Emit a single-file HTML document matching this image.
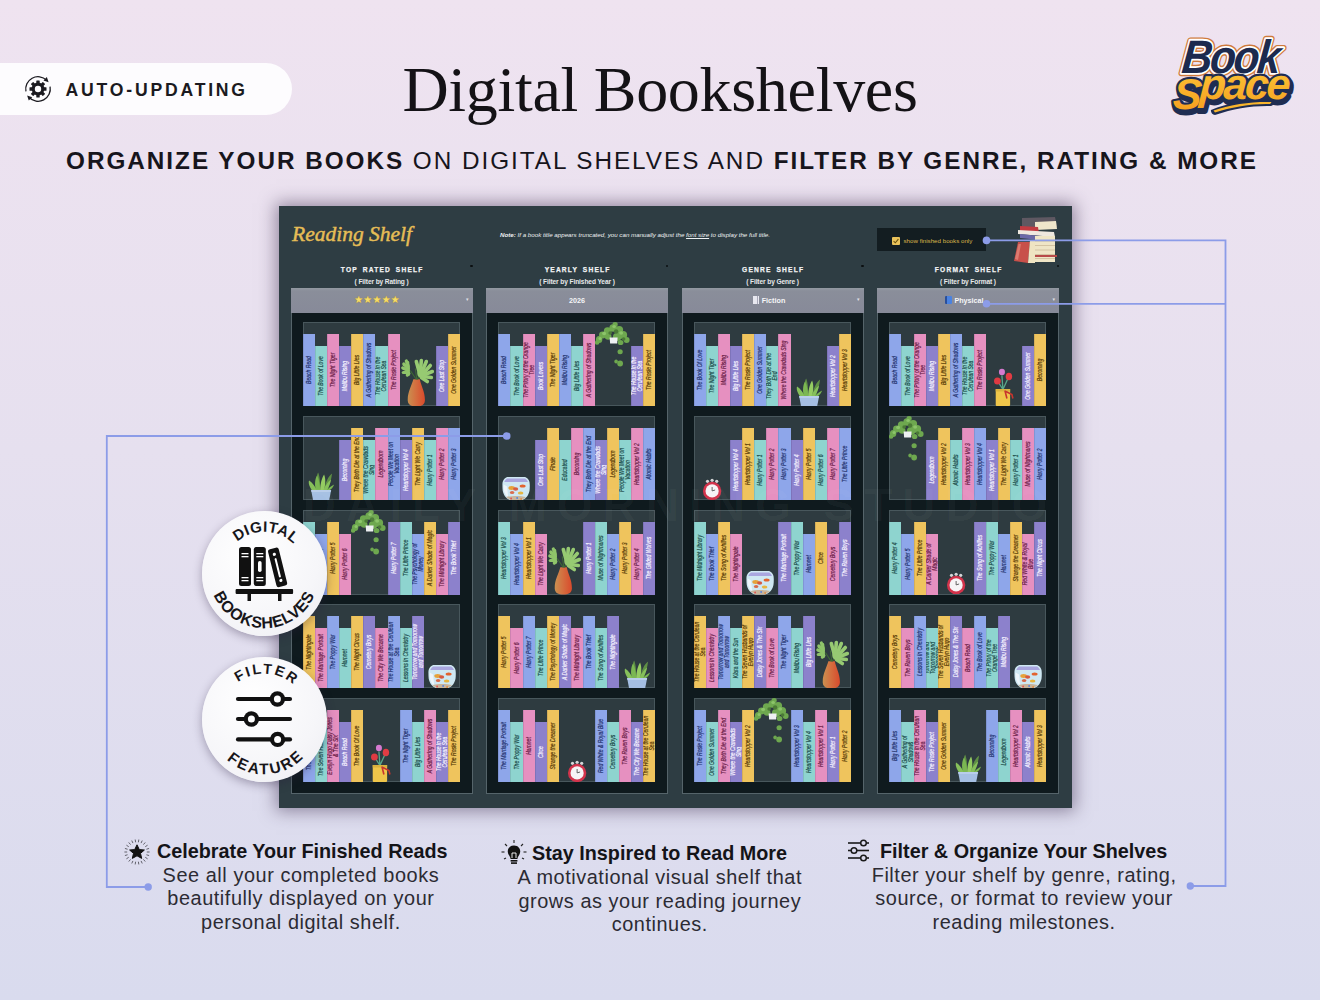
<!DOCTYPE html>
<html><head><meta charset="utf-8"><title>Digital Bookshelves</title><style>
*{box-sizing:border-box;margin:0;padding:0}
html,body{width:1320px;height:1000px;overflow:hidden}
body{position:relative;background:linear-gradient(180deg,#efe3f0 0%,#e6e0ef 45%,#d9dbee 100%);font-family:"Liberation Sans",Arial,sans-serif;color:#15151a}
.abs{position:absolute}
#pill{position:absolute;left:-30px;top:63px;width:322px;height:51.5px;border-radius:26px;background:#fdfcfe}
#pill .txt{position:absolute;left:95.5px;top:16.5px;font-size:17.6px;font-weight:700;letter-spacing:2.8px;color:#1b1a20;white-space:nowrap}
#gear{position:absolute;left:24px;top:74.6px}
#title{position:absolute;left:0;width:1320px;top:53px;text-align:center;font-family:"Liberation Serif",serif;font-size:64px;letter-spacing:-0.3px;color:#141216;white-space:nowrap}
#sub{position:absolute;left:2px;width:1320px;top:147px;text-align:center;font-size:24.3px;letter-spacing:1.97px;color:#17151c;white-space:nowrap}
#sub b{font-weight:700}
#logo{position:absolute;left:1162px;top:29px}
#panel{position:absolute;left:279px;top:206px;width:793px;height:602px;background:#2e3d43;box-shadow:0 0 16px 3px rgba(60,44,78,.5)}
#rs{position:absolute;left:292px;top:221.5px;font-family:"Liberation Serif",serif;font-style:italic;font-weight:400;font-size:21.5px;color:#e6bd56;-webkit-text-stroke:0.45px #e6bd56;white-space:nowrap}
#note{position:absolute;left:500px;top:230.5px;font-size:6.2px;font-style:italic;color:#eef1f2;white-space:nowrap}
#note u{text-decoration:underline}
#cbx{position:absolute;left:877px;top:228px;width:108.5px;height:23px;background:#131d21}
#cbx .box{position:absolute;left:14.5px;top:8.5px;width:8px;height:8px;background:#e9c25a;border-radius:1px}
#cbx .lbl{position:absolute;left:26.5px;top:8.5px;font-size:6.2px;color:#dbb64a;white-space:nowrap}
.ch{position:absolute;top:266px;text-align:center;font-size:6.6px;font-weight:700;letter-spacing:1.22px;word-spacing:1.8px;color:#f2f3f4;white-space:nowrap;padding-left:1.22px;-webkit-text-stroke:0.25px #f2f3f4}
.cs{position:absolute;top:278px;text-align:center;font-size:6.6px;font-weight:700;letter-spacing:-0.1px;color:#e8eaeb;white-space:nowrap}
.dot{position:absolute;top:264.5px;width:2.5px;height:2.5px;border-radius:50%;background:#0b0f10}
.dd{position:absolute;top:288.4px;height:24.6px;background:linear-gradient(180deg,#939aa2 0,#8a8e9a 12%,#878a99 100%)}
.dd .dv{position:absolute;left:0;right:0;top:7.5px;text-align:center;font-size:7.2px;font-weight:700;color:#f6f6f8;white-space:nowrap}
.dd .car{position:absolute;right:4px;top:8px;font-size:5px;color:#e0e0e6;font-family:"DejaVu Sans",sans-serif}
.stars{font-family:"DejaVu Sans",sans-serif;color:#f5dc6a;font-size:9.9px;letter-spacing:0.3px;position:relative;top:-1.8px;left:-4.5px;text-shadow:0 0 1px #b08a10}
.ic{display:inline-block;width:6.5px;height:7.5px;margin-right:2.5px;vertical-align:-1px}
.ic1{background:linear-gradient(90deg,#e8e8f0 0 30%,#a8a8b8 30% 40%,#e8e8f0 40% 70%,#a8a8b8 70% 80%,#e8e8f0 80%)}
.ic2{background:linear-gradient(90deg,#2a4f9a 0 25%,#4a82e0 25%);border-radius:1px}
.fr{position:absolute;top:312.8px;height:481.5px;background:#0f1a1e;border:1px solid #55646a;border-top:none}
.sb{position:absolute;background:#2e3b40;border:1px solid #48575c}
.dc{position:absolute}
.bk{position:absolute;overflow:hidden;box-shadow:inset 0.8px 0 0 rgba(30,30,60,.16);font-style:italic;font-weight:400;font-size:6.3px;line-height:5.6px;-webkit-text-stroke:0.2px currentColor}
.bk span{position:absolute;left:50%;top:50%;transform:translate(-50%,-50%) rotate(-90deg) scaleX(0.8);text-align:center;white-space:normal}
#wm{position:absolute;left:300px;top:478px;width:760px;text-align:center;font-size:46px;font-weight:700;letter-spacing:10px;color:rgba(255,255,255,.035);white-space:nowrap}
#stack{position:absolute;left:1012px;top:215px}
#lines{position:absolute;left:0;top:0}
.badge{position:absolute;width:124.5px;height:124.5px;border-radius:50%;background:radial-gradient(circle at 40% 35%,#ffffff 0%,#f6f6f9 60%,#ececf1 100%);box-shadow:0 3px 10px rgba(40,30,60,.35)}
.badge svg{position:absolute;left:0;top:0}
.feat{position:absolute;text-align:center;white-space:nowrap}
.feat .ft{font-weight:700;font-size:19.8px;letter-spacing:0px;color:#141418;line-height:23px}
.feat .fb{font-size:19.9px;letter-spacing:0.56px;color:#2c2b33;line-height:23.6px}

</style></head>
<body>
<svg width="0" height="0" style="position:absolute"><defs><linearGradient id="vaseg" x1="0" y1="0" x2="1" y2="0"><stop offset="0" stop-color="#c99050"/><stop offset="0.45" stop-color="#d47040"/><stop offset="1" stop-color="#d94a2c"/></linearGradient></defs></svg>
<div id="pill"><span class="txt">AUTO-UPDATING</span></div>
<svg id="gear" width="28" height="28" viewBox="0 0 28 28">
  <g transform="translate(14,14)">
    <path d="M-12.07,2.35 A12.3,12.3 0 0 1 8.54,-8.85" fill="none" stroke="#1b1a20" stroke-width="1.3"/>
    <path d="M10.62,-6.85 L8.83,-11.91 L5.50,-8.46 Z" fill="#1b1a20"/>
    <path d="M12.07,-2.35 A12.3,12.3 0 0 1 -8.85,8.54" fill="none" stroke="#1b1a20" stroke-width="1.3"/>
    <path d="M-10.85,6.47 L-9.24,11.59 L-5.79,8.26 Z" fill="#1b1a20"/>
    <g fill="#1b1a20"><circle r="6.4"/><rect x="-1.7" y="-8.5" width="3.4" height="17" rx="0.5" transform="rotate(0)"/><rect x="-1.7" y="-8.5" width="3.4" height="17" rx="0.5" transform="rotate(45)"/><rect x="-1.7" y="-8.5" width="3.4" height="17" rx="0.5" transform="rotate(90)"/><rect x="-1.7" y="-8.5" width="3.4" height="17" rx="0.5" transform="rotate(135)"/></g>
    <circle r="3.2" fill="#fdfcfe"/>
  </g>
</svg>
<div id="title">Digital Bookshelves</div>
<div id="sub"><b>ORGANIZE YOUR BOOKS</b> ON DIGITAL SHELVES AND <b>FILTER BY GENRE, RATING &amp; MORE</b></div>
<svg id="logo" width="140" height="92" viewBox="0 0 140 92">
  <defs><linearGradient id="lg" x1="0" y1="0" x2="0" y2="1"><stop offset="0" stop-color="#fcc93a"/><stop offset="1" stop-color="#f59a1c"/></linearGradient></defs>
  <g font-family="'Liberation Sans',sans-serif" font-weight="700" font-style="italic">
    <g transform="translate(67,44) scale(0.9,1) skewX(-6)">
      <text x="0" y="0" text-anchor="middle" font-size="47" fill="#1f2d52" stroke="#cf7a3c" stroke-width="6.5" stroke-linejoin="round" letter-spacing="-2.5">Book</text>
      <text x="0" y="0" text-anchor="middle" font-size="47" fill="#1f2d52" stroke="#ffffff" stroke-width="3.6" stroke-linejoin="round" letter-spacing="-2.5">Book</text>
      <text x="0" y="0" text-anchor="middle" font-size="47" fill="#1c2a4e" letter-spacing="-2.5">Book</text>
    </g>
    <g transform="translate(68,70) skewX(-4)">
      <text x="1.5" y="12.5" text-anchor="middle" font-size="43" fill="#1f2d52" stroke="#1f2d52" stroke-width="6" stroke-linejoin="round" letter-spacing="-2.5">S<tspan dy="-10">pace</tspan></text>
      <text x="0" y="10" text-anchor="middle" font-size="43" fill="#f7ae25" stroke="#1f2d52" stroke-width="4.5" stroke-linejoin="round" letter-spacing="-2.5">S<tspan dy="-10">pace</tspan></text>
      <text x="0" y="10" text-anchor="middle" font-size="43" fill="url(#lg)" letter-spacing="-2.5">S<tspan dy="-10">pace</tspan></text>
    </g>
  </g>
  <path d="M49,81 C68,73 90,70 111,71 C113,72.5 112,76 109,77 C90,76.5 72,79.5 53,86 C50,85.5 48.5,83 49,81 Z" fill="#1f2d52"/>
  <path d="M51.5,81.5 C70,75 90,72.5 109.5,73 C109,74 108.5,74.5 108,75 C90,74.5 72,77.5 53,83.5 Z" fill="#f8b52c"/>
</svg>

<div id="panel"></div>
<div id="rs">Reading Shelf</div>
<div id="note"><b>Note:</b> If a book title appears truncated, you can manually adjust the <u>font size</u> to display the full title.</div>
<div id="cbx"><div class="box"><svg width="8" height="8" viewBox="0 0 8 8" style="position:absolute;left:0;top:0"><path d="M1.6,4.2 L3.3,5.8 L6.4,2.2" stroke="#6a5210" stroke-width="1.1" fill="none"/></svg></div><div class="lbl">show finished books only</div></div>
<svg id="stack" width="48" height="52" viewBox="0 0 48 52">
  <path d="M10,3 L43,2 L45,12 L10,13 Z" fill="#5f5862"/>
  <path d="M23,7 L44,6 L45,14 L23,15 Z" fill="#efe6cb"/>
  <path d="M8,11 L26,12 L27,18 L8,17 Z" fill="#c23b42"/>
  <path d="M6,15 L42,17 L43,22 L6,19 Z" fill="#efe8df"/>
  <path d="M8,19 L28,21 L28,25 L8,23 Z" fill="#6b69a8"/>
  <rect x="23" y="21" width="20" height="26" fill="#efe5c6"/>
  <g stroke="#c9b592" stroke-width="0.7"><line x1="23" y1="26" x2="43" y2="26"/><line x1="23" y1="30.5" x2="43" y2="30.5"/><line x1="23" y1="35" x2="43" y2="35"/><line x1="23" y1="39.5" x2="43" y2="39.5"/><line x1="23" y1="43.5" x2="43" y2="43.5"/></g>
  <rect x="22" y="40" width="23" height="2" fill="#b84a4a"/>
  <path d="M2,46 L6,27 L18,27 L16,48 Z" fill="#c8504a"/>
  <path d="M3,44 L6.5,29 L9,29 L6,45 Z" fill="#dc7a70"/>
  <path d="M16,48 L18,25 L23,25 L23,48 Z" fill="#efe4c2"/>
</svg>
<div class="ch" style="left:290.60px;width:182px">TOP RATED SHELF</div>
<div class="cs" style="left:290.60px;width:182px">( Filter by Rating )</div>
<div class="dot" style="left:470.10px"></div>
<div class="dd" style="left:290.60px;width:182px"><span class="dv"><span class="stars">★★★★★</span></span><span class="car">▾</span></div>
<div class="fr" style="left:290.60px;width:182px"></div>
<div class="ch" style="left:486.00px;width:182px">YEARLY SHELF</div>
<div class="cs" style="left:486.00px;width:182px">( Filter by Finished Year )</div>
<div class="dot" style="left:665.50px"></div>
<div class="dd" style="left:486.00px;width:182px"><span class="dv">2026</span></div>
<div class="fr" style="left:486.00px;width:182px"></div>
<div class="ch" style="left:681.50px;width:182px">GENRE SHELF</div>
<div class="cs" style="left:681.50px;width:182px">( Filter by Genre )</div>
<div class="dot" style="left:861.00px"></div>
<div class="dd" style="left:681.50px;width:182px"><span class="dv"><span style="position:relative;left:-3.5px"><i class="ic ic1"></i>Fiction</span></span><span class="car">▾</span></div>
<div class="fr" style="left:681.50px;width:182px"></div>
<div class="ch" style="left:877.00px;width:182px">FORMAT SHELF</div>
<div class="cs" style="left:877.00px;width:182px">( Filter by Format )</div>
<div class="dot" style="left:1056.50px"></div>
<div class="dd" style="left:877.00px;width:182px"><span class="dv"><span style="position:relative;left:-3.5px"><i class="ic ic2"></i>Physical</span></span><span class="car">▾</span></div>
<div class="fr" style="left:877.00px;width:182px"></div>
<div class="sb" style="left:303.00px;top:321.50px;width:157.00px;height:84.50px"></div>
<div class="bk" style="left:303.00px;top:333.50px;width:12.08px;height:72.50px;background:#8ea6ea;color:#24336f"><span style="width:77.5px">Beach Read</span></div>
<div class="bk" style="left:315.08px;top:345.50px;width:12.08px;height:60.50px;background:#8ed4cf;color:#1b4c4a"><span style="width:62.5px">The Book of Love</span></div>
<div class="bk" style="left:327.15px;top:333.50px;width:12.08px;height:72.50px;background:#e690c0;color:#6a1c46"><span style="width:77.5px">The Night Tiger</span></div>
<div class="bk" style="left:339.23px;top:345.50px;width:12.08px;height:60.50px;background:#8c81cc;color:#f6f2ff"><span style="width:62.5px">Malibu Rising</span></div>
<div class="bk" style="left:351.31px;top:333.50px;width:12.08px;height:72.50px;background:#efc45d;color:#573905"><span style="width:77.5px">Big Little Lies</span></div>
<div class="bk" style="left:363.38px;top:333.50px;width:12.08px;height:72.50px;background:#8ea6ea;color:#24336f"><span style="width:77.5px">A Gathering of Shadows</span></div>
<div class="bk" style="left:375.46px;top:345.50px;width:12.08px;height:60.50px;background:#8ed4cf;color:#1b4c4a"><span style="width:62.5px">The House in the Cerulean Sea</span></div>
<div class="bk" style="left:387.54px;top:333.50px;width:12.08px;height:72.50px;background:#e690c0;color:#6a1c46"><span style="width:77.5px">The Rosie Project</span></div>
<div class="bk" style="left:435.85px;top:345.50px;width:12.08px;height:60.50px;background:#8c81cc;color:#f6f2ff"><span style="width:62.5px">One Last Stop</span></div>
<div class="bk" style="left:447.92px;top:333.50px;width:12.08px;height:72.50px;background:#efc45d;color:#573905"><span style="width:77.5px">One Golden Summer</span></div>
<div class="dc" style="left:399.62px;top:321.50px;width:36.23px;height:84.50px"><svg width="36.2" height="84.5" style="position:absolute;left:0;top:0">
<g transform="translate(16.32,84.50)">
<path d="M-3,-27.3 L3.5,-27.3 C4.5,-21 8.8,-15 8.6,-6 C8.4,-1.5 5,0 0,0 C-5,0 -8.4,-1.5 -8.6,-6 C-8.8,-15 -4.5,-21 -3,-27.3 Z" fill="url(#vaseg)"/>
<path d="M0,-27 L-6,-36 M1,-27 L4,-33 M0.5,-27 L-1,-38" stroke="#3f6b34" stroke-width="1.1"/>
<g stroke="#8fc46a" stroke-width="3.2" stroke-linecap="round"><path d="M-8,-34 L-13,-34" /><path d="M-8,-36 L-13.5,-38.5" /><path d="M-8,-38 L-12.5,-42.5" /><path d="M-8,-40 L-10,-45.5" /><path d="M-7.5,-33 L-9,-31.5" /></g>
<path d="M-8,-32 L-8.5,-44" stroke="#8fc46a" stroke-width="3" stroke-linecap="round"/>
<g stroke="#97ca72" stroke-width="3.6" stroke-linecap="round"><path d="M3,-34 L0,-45" /><path d="M4,-34 L5,-46" /><path d="M5,-33 L10,-45" /><path d="M6,-32 L14,-41" /><path d="M6,-31 L16,-35" /><path d="M6,-30 L15,-29" /><path d="M5,-29 L11,-25" /></g>
<circle cx="5" cy="-33" r="4" fill="#97ca72"/>
</g></svg></div>
<div class="sb" style="left:303.00px;top:415.80px;width:157.00px;height:84.50px"></div>
<div class="bk" style="left:339.23px;top:439.80px;width:12.08px;height:60.50px;background:#8c81cc;color:#f6f2ff"><span style="width:62.5px">Becoming</span></div>
<div class="bk" style="left:351.31px;top:427.80px;width:12.08px;height:72.50px;background:#efc45d;color:#573905"><span style="width:77.5px">They Both Die at the End</span></div>
<div class="bk" style="left:363.38px;top:439.80px;width:12.08px;height:60.50px;background:#8ed4cf;color:#1b4c4a"><span style="width:62.5px">Where the Crawdads Sing</span></div>
<div class="bk" style="left:375.46px;top:427.80px;width:12.08px;height:72.50px;background:#e690c0;color:#6a1c46"><span style="width:77.5px">Legendborn</span></div>
<div class="bk" style="left:387.54px;top:427.80px;width:12.08px;height:72.50px;background:#8ea6ea;color:#24336f"><span style="width:77.5px">People We Meet on Vacation</span></div>
<div class="bk" style="left:399.62px;top:439.80px;width:12.08px;height:60.50px;background:#8c81cc;color:#f6f2ff"><span style="width:62.5px">Heartstopper Vol 4</span></div>
<div class="bk" style="left:411.69px;top:427.80px;width:12.08px;height:72.50px;background:#efc45d;color:#573905"><span style="width:77.5px">The Light We Carry</span></div>
<div class="bk" style="left:423.77px;top:439.80px;width:12.08px;height:60.50px;background:#8ed4cf;color:#1b4c4a"><span style="width:62.5px">Harry Potter 1</span></div>
<div class="bk" style="left:435.85px;top:427.80px;width:12.08px;height:72.50px;background:#e690c0;color:#6a1c46"><span style="width:77.5px">Harry Potter 2</span></div>
<div class="bk" style="left:447.92px;top:427.80px;width:12.08px;height:72.50px;background:#8ea6ea;color:#24336f"><span style="width:77.5px">Harry Potter 3</span></div>
<div class="dc" style="left:303.00px;top:415.80px;width:36.23px;height:84.50px"><svg width="36.2" height="84.5" style="position:absolute;left:0;top:0">
<g transform="translate(18.12,84.50)">
<g fill="#5f8f45">
<path d="M-4,-10 C-6,-18 -5,-24 -3,-28 C-1,-24 -1,-16 -1,-10 Z"/>
<path d="M3,-10 C4,-18 7,-24 11,-27 C10,-20 8,-14 6,-10 Z"/>
</g>
<g fill="#86c05a">
<path d="M-9,-10 C-12,-14 -13,-18 -12,-20 C-9,-18 -6,-14 -4,-10 Z"/>
<path d="M-5,-10 C-7,-16 -6,-22 -4,-25 C-2,-21 -1,-15 -1,-10 Z" fill="#7bb752"/>
<path d="M-1,-10 C-1,-17 1,-23 3,-26 C5,-21 4,-15 3,-10 Z" fill="#95cc62"/>
<path d="M2,-10 C4,-15 7,-19 10,-21 C9,-16 7,-13 6,-10 Z"/>
<path d="M5,-10 C8,-13 11,-15 13,-16 C12,-13 10,-11 8,-10 Z" fill="#7bb752"/>
</g>
<path d="M-10,-10.5 L10,-10.5 L8,0 L-8,0 Z" fill="#a5bfe3"/>
<path d="M-10,-10.5 L10,-10.5 L9.6,-8.5 L-9.6,-8.5 Z" fill="#b8cdea"/>
</g></svg></div>
<div class="sb" style="left:303.00px;top:510.00px;width:157.00px;height:84.50px"></div>
<div class="bk" style="left:303.00px;top:522.00px;width:12.08px;height:72.50px;background:#8ed4cf;color:#1b4c4a"><span style="width:77.5px">Harry Potter 3</span></div>
<div class="bk" style="left:315.08px;top:534.00px;width:12.08px;height:60.50px;background:#8ea6ea;color:#24336f"><span style="width:62.5px">Harry Potter 4</span></div>
<div class="bk" style="left:327.15px;top:522.00px;width:12.08px;height:72.50px;background:#efc45d;color:#573905"><span style="width:77.5px">Harry Potter 5</span></div>
<div class="bk" style="left:339.23px;top:534.00px;width:12.08px;height:60.50px;background:#e690c0;color:#6a1c46"><span style="width:62.5px">Harry Potter 6</span></div>
<div class="bk" style="left:387.54px;top:522.00px;width:12.08px;height:72.50px;background:#8c81cc;color:#f6f2ff"><span style="width:77.5px">Harry Potter 7</span></div>
<div class="bk" style="left:399.62px;top:522.00px;width:12.08px;height:72.50px;background:#8ed4cf;color:#1b4c4a"><span style="width:77.5px">The Little Prince</span></div>
<div class="bk" style="left:411.69px;top:534.00px;width:12.08px;height:60.50px;background:#8ea6ea;color:#24336f"><span style="width:62.5px">The Psychology of Money</span></div>
<div class="bk" style="left:423.77px;top:522.00px;width:12.08px;height:72.50px;background:#efc45d;color:#573905"><span style="width:77.5px">A Darker Shade of Magic</span></div>
<div class="bk" style="left:435.85px;top:534.00px;width:12.08px;height:60.50px;background:#e690c0;color:#6a1c46"><span style="width:62.5px">The Midnight Library</span></div>
<div class="bk" style="left:447.92px;top:522.00px;width:12.08px;height:72.50px;background:#8c81cc;color:#f6f2ff"><span style="width:77.5px">The Book Thief</span></div>
<div class="dc" style="left:351.31px;top:510.00px;width:36.23px;height:84.50px"><svg width="36.2" height="84.5" style="position:absolute;left:0;top:0">
<g transform="translate(18.12,0)">
<g fill="#6ea84f">
<ellipse cx="-14" cy="17.5" rx="3.2" ry="3.5"/><ellipse cx="-10.5" cy="13" rx="3.6" ry="3.4"/>
<ellipse cx="-5.5" cy="9" rx="3.8" ry="3.8"/><ellipse cx="0" cy="6" rx="3.8" ry="3.8"/>
<ellipse cx="2" cy="2.5" rx="2.6" ry="2.4"/>
<ellipse cx="6" cy="8" rx="4" ry="4"/><ellipse cx="10" cy="13" rx="4" ry="4"/>
<ellipse cx="13.5" cy="18" rx="3" ry="3"/><ellipse cx="4" cy="15" rx="4.2" ry="4"/>
<ellipse cx="-5" cy="14.5" rx="3.3" ry="3.2"/><ellipse cx="-16" cy="20.5" rx="2.3" ry="2.3"/>
<ellipse cx="7.5" cy="20.5" rx="2.8" ry="2.6"/>
<ellipse cx="7" cy="29.7" rx="2.6" ry="2.5"/><ellipse cx="7" cy="41.5" rx="2.9" ry="2.9"/><ellipse cx="3" cy="39.5" rx="1.8" ry="2"/>
</g>
<g fill="#8cc46a"><ellipse cx="-9" cy="11.5" rx="2" ry="1.8"/><ellipse cx="1" cy="4.5" rx="1.8" ry="1.6"/><ellipse cx="8" cy="11" rx="2" ry="1.8"/><ellipse cx="-13" cy="16.5" rx="1.6" ry="1.6"/></g>
<g fill="#4b7a36"><ellipse cx="3" cy="9.5" rx="2.2" ry="2.2"/><ellipse cx="10.5" cy="17" rx="1.8" ry="1.8"/><ellipse cx="-3" cy="11" rx="1.8" ry="1.8"/></g>
<path d="M-3.5,15.5 L4.5,15.5 L4,21.5 L-3,21.5 Z" fill="#eef0f2"/>
</g></svg></div>
<div class="sb" style="left:303.00px;top:603.80px;width:157.00px;height:84.50px"></div>
<div class="bk" style="left:303.00px;top:615.80px;width:12.08px;height:72.50px;background:#efc45d;color:#573905"><span style="width:77.5px">The Nightingale</span></div>
<div class="bk" style="left:315.08px;top:627.80px;width:12.08px;height:60.50px;background:#e690c0;color:#6a1c46"><span style="width:62.5px">The Marriage Portrait</span></div>
<div class="bk" style="left:327.15px;top:615.80px;width:12.08px;height:72.50px;background:#8ea6ea;color:#24336f"><span style="width:77.5px">The Poppy War</span></div>
<div class="bk" style="left:339.23px;top:627.80px;width:12.08px;height:60.50px;background:#8ed4cf;color:#1b4c4a"><span style="width:62.5px">Hamnet</span></div>
<div class="bk" style="left:351.31px;top:615.80px;width:12.08px;height:72.50px;background:#efc45d;color:#573905"><span style="width:77.5px">The Night Circus</span></div>
<div class="bk" style="left:363.38px;top:615.80px;width:12.08px;height:72.50px;background:#8c81cc;color:#f6f2ff"><span style="width:77.5px">Cemetery Boys</span></div>
<div class="bk" style="left:375.46px;top:627.80px;width:12.08px;height:60.50px;background:#e690c0;color:#6a1c46"><span style="width:62.5px">The City We Became</span></div>
<div class="bk" style="left:387.54px;top:615.80px;width:12.08px;height:72.50px;background:#8ea6ea;color:#24336f"><span style="width:77.5px">The House at the Cerulean Sea</span></div>
<div class="bk" style="left:399.62px;top:627.80px;width:12.08px;height:60.50px;background:#8ed4cf;color:#1b4c4a"><span style="width:62.5px">Lessons in Chemistry</span></div>
<div class="bk" style="left:411.69px;top:615.80px;width:12.08px;height:72.50px;background:#8c81cc;color:#f6f2ff"><span style="width:77.5px">Tomorrow and Tomorrow and Tomorrow</span></div>
<div class="dc" style="left:423.77px;top:603.80px;width:36.23px;height:84.50px"><svg width="36.2" height="84.5" style="position:absolute;left:0;top:0">
<g transform="translate(18.12,84.50)">
<path d="M-9,-23.5 L9,-23.5 C14,-21 13.8,-18 13.6,-12 C13.4,-5 9,-0.5 4,0 L-4,0 C-9,-0.5 -13.4,-5 -13.6,-12 C-13.8,-18 -14,-21 -9,-23.5 Z" fill="#cfe8f2"/>
<path d="M-9,-22 L9,-22 C11,-20.5 11.5,-19.5 11.8,-18.5 L-11.8,-18.5 C-11.5,-19.5 -11,-20.5 -9,-22 Z" fill="#a9a6df"/>
<path d="M-12.5,-16 C-13,-10 -11,-5 -8,-3 L-9,-14 Z" fill="#eef6fb"/>
<ellipse cx="-4.5" cy="-12.5" rx="3.3" ry="1.9" fill="#e6a23a"/>
<ellipse cx="-0.5" cy="-11.5" rx="2.6" ry="1.8" fill="#d55a40"/>
<ellipse cx="6.5" cy="-14.5" rx="3" ry="1.6" fill="#e2632e"/>
<ellipse cx="-4" cy="-8" rx="2.2" ry="1.6" fill="#d86a4a"/>
<ellipse cx="4.5" cy="-7.5" rx="2.8" ry="1.6" fill="#e7b53e"/>
<path d="M-10,-3.5 C-5,-5 5,-5 10,-3.5 L5,0 L-5,0 Z" fill="#c8b49a"/>
<circle cx="-5" cy="-2" r="0.9" fill="#e05050"/><circle cx="1" cy="-2.5" r="0.9" fill="#5080e0"/><circle cx="5" cy="-1.5" r="0.9" fill="#e08a40"/>
</g></svg></div>
<div class="sb" style="left:303.00px;top:697.80px;width:157.00px;height:84.50px"></div>
<div class="bk" style="left:303.00px;top:709.80px;width:12.08px;height:72.50px;background:#8ea6ea;color:#24336f"><span style="width:77.5px">The Seven Husbands</span></div>
<div class="bk" style="left:315.08px;top:721.80px;width:12.08px;height:60.50px;background:#8ed4cf;color:#1b4c4a"><span style="width:62.5px">The Seven Husbands</span></div>
<div class="bk" style="left:327.15px;top:709.80px;width:12.08px;height:72.50px;background:#e690c0;color:#6a1c46"><span style="width:77.5px">Evelyn Hugo Daisy Jones &amp; The Six</span></div>
<div class="bk" style="left:339.23px;top:721.80px;width:12.08px;height:60.50px;background:#8c81cc;color:#f6f2ff"><span style="width:62.5px">Beach Read</span></div>
<div class="bk" style="left:351.31px;top:709.80px;width:12.08px;height:72.50px;background:#efc45d;color:#573905"><span style="width:77.5px">The Book Of Love</span></div>
<div class="bk" style="left:399.62px;top:709.80px;width:12.08px;height:72.50px;background:#8ea6ea;color:#24336f"><span style="width:77.5px">The Night Tiger</span></div>
<div class="bk" style="left:411.69px;top:721.80px;width:12.08px;height:60.50px;background:#8ed4cf;color:#1b4c4a"><span style="width:62.5px">Big Little Lies</span></div>
<div class="bk" style="left:423.77px;top:709.80px;width:12.08px;height:72.50px;background:#e690c0;color:#6a1c46"><span style="width:77.5px">A Gathering of Shadows</span></div>
<div class="bk" style="left:435.85px;top:721.80px;width:12.08px;height:60.50px;background:#8c81cc;color:#f6f2ff"><span style="width:62.5px">The House in the Cerulean Sea</span></div>
<div class="bk" style="left:447.92px;top:709.80px;width:12.08px;height:72.50px;background:#efc45d;color:#573905"><span style="width:77.5px">The Rosie Project</span></div>
<div class="dc" style="left:363.38px;top:697.80px;width:36.23px;height:84.50px"><svg width="36.2" height="84.5" style="position:absolute;left:0;top:0">
<g transform="translate(16.92,84.50)">
<path d="M0,-17 L-5,-25 M0,-17 L-1,-31 M0,-17 L5,-28" stroke="#5aa88a" stroke-width="1.3"/>
<ellipse cx="-5.5" cy="-25.5" rx="3.4" ry="3.6" fill="#df3a42"/>
<ellipse cx="6" cy="-30" rx="3.2" ry="3.8" fill="#e23c44"/>
<ellipse cx="-1" cy="-34.5" rx="3" ry="3.2" fill="#d57ad0"/>
<path d="M-7.2,-17.4 L7.2,-17.4 L7.2,-2 C7.2,-0.5 6,0 4.5,0 L-4.5,0 C-6,0 -7.2,-0.5 -7.2,-2 Z" fill="#efc64a"/>
<path d="M-7.2,-17.4 L7.2,-17.4 L7.2,-15 L-7.2,-15 Z" fill="#d9b23e"/>
<path d="M2,-16 L4,-8 M3,-15 L9,-12 L10,-8" stroke="#c8352e" stroke-width="1.6" fill="none"/>
</g></svg></div>
<div class="sb" style="left:498.40px;top:321.50px;width:157.00px;height:84.50px"></div>
<div class="bk" style="left:498.40px;top:333.50px;width:12.08px;height:72.50px;background:#8ea6ea;color:#24336f"><span style="width:77.5px">Beach Read</span></div>
<div class="bk" style="left:510.48px;top:345.50px;width:12.08px;height:60.50px;background:#8ed4cf;color:#1b4c4a"><span style="width:62.5px">The Book of Love</span></div>
<div class="bk" style="left:522.55px;top:333.50px;width:12.08px;height:72.50px;background:#e690c0;color:#6a1c46"><span style="width:77.5px">The Priory of the Orange Tree</span></div>
<div class="bk" style="left:534.63px;top:345.50px;width:12.08px;height:60.50px;background:#8c81cc;color:#f6f2ff"><span style="width:62.5px">Book Lovers</span></div>
<div class="bk" style="left:546.71px;top:333.50px;width:12.08px;height:72.50px;background:#efc45d;color:#573905"><span style="width:77.5px">The Night Tiger</span></div>
<div class="bk" style="left:558.78px;top:333.50px;width:12.08px;height:72.50px;background:#8ea6ea;color:#24336f"><span style="width:77.5px">Malibu Rising</span></div>
<div class="bk" style="left:570.86px;top:345.50px;width:12.08px;height:60.50px;background:#8ed4cf;color:#1b4c4a"><span style="width:62.5px">Big Little Lies</span></div>
<div class="bk" style="left:582.94px;top:333.50px;width:12.08px;height:72.50px;background:#e690c0;color:#6a1c46"><span style="width:77.5px">A Gathering of Shadows</span></div>
<div class="bk" style="left:631.25px;top:345.50px;width:12.08px;height:60.50px;background:#8c81cc;color:#f6f2ff"><span style="width:62.5px">The House in the Cerulean Sea</span></div>
<div class="bk" style="left:643.32px;top:333.50px;width:12.08px;height:72.50px;background:#efc45d;color:#573905"><span style="width:77.5px">The Rosie Project</span></div>
<div class="dc" style="left:595.02px;top:321.50px;width:36.23px;height:84.50px"><svg width="36.2" height="84.5" style="position:absolute;left:0;top:0">
<g transform="translate(18.12,0)">
<g fill="#6ea84f">
<ellipse cx="-14" cy="17.5" rx="3.2" ry="3.5"/><ellipse cx="-10.5" cy="13" rx="3.6" ry="3.4"/>
<ellipse cx="-5.5" cy="9" rx="3.8" ry="3.8"/><ellipse cx="0" cy="6" rx="3.8" ry="3.8"/>
<ellipse cx="2" cy="2.5" rx="2.6" ry="2.4"/>
<ellipse cx="6" cy="8" rx="4" ry="4"/><ellipse cx="10" cy="13" rx="4" ry="4"/>
<ellipse cx="13.5" cy="18" rx="3" ry="3"/><ellipse cx="4" cy="15" rx="4.2" ry="4"/>
<ellipse cx="-5" cy="14.5" rx="3.3" ry="3.2"/><ellipse cx="-16" cy="20.5" rx="2.3" ry="2.3"/>
<ellipse cx="7.5" cy="20.5" rx="2.8" ry="2.6"/>
<ellipse cx="7" cy="29.7" rx="2.6" ry="2.5"/><ellipse cx="7" cy="41.5" rx="2.9" ry="2.9"/><ellipse cx="3" cy="39.5" rx="1.8" ry="2"/>
</g>
<g fill="#8cc46a"><ellipse cx="-9" cy="11.5" rx="2" ry="1.8"/><ellipse cx="1" cy="4.5" rx="1.8" ry="1.6"/><ellipse cx="8" cy="11" rx="2" ry="1.8"/><ellipse cx="-13" cy="16.5" rx="1.6" ry="1.6"/></g>
<g fill="#4b7a36"><ellipse cx="3" cy="9.5" rx="2.2" ry="2.2"/><ellipse cx="10.5" cy="17" rx="1.8" ry="1.8"/><ellipse cx="-3" cy="11" rx="1.8" ry="1.8"/></g>
<path d="M-3.5,15.5 L4.5,15.5 L4,21.5 L-3,21.5 Z" fill="#eef0f2"/>
</g></svg></div>
<div class="sb" style="left:498.40px;top:415.80px;width:157.00px;height:84.50px"></div>
<div class="bk" style="left:534.63px;top:439.80px;width:12.08px;height:60.50px;background:#8c81cc;color:#f6f2ff"><span style="width:62.5px">One Last Stop</span></div>
<div class="bk" style="left:546.71px;top:427.80px;width:12.08px;height:72.50px;background:#efc45d;color:#573905"><span style="width:77.5px">Finale</span></div>
<div class="bk" style="left:558.78px;top:439.80px;width:12.08px;height:60.50px;background:#8ed4cf;color:#1b4c4a"><span style="width:62.5px">Educated</span></div>
<div class="bk" style="left:570.86px;top:427.80px;width:12.08px;height:72.50px;background:#e690c0;color:#6a1c46"><span style="width:77.5px">Becoming</span></div>
<div class="bk" style="left:582.94px;top:427.80px;width:12.08px;height:72.50px;background:#8ea6ea;color:#24336f"><span style="width:77.5px">They Both Die at the End</span></div>
<div class="bk" style="left:595.02px;top:439.80px;width:12.08px;height:60.50px;background:#8c81cc;color:#f6f2ff"><span style="width:62.5px">Where the Crawdads Sing</span></div>
<div class="bk" style="left:607.09px;top:427.80px;width:12.08px;height:72.50px;background:#efc45d;color:#573905"><span style="width:77.5px">Legendborn</span></div>
<div class="bk" style="left:619.17px;top:439.80px;width:12.08px;height:60.50px;background:#8ed4cf;color:#1b4c4a"><span style="width:62.5px">People We Meet on Vacation</span></div>
<div class="bk" style="left:631.25px;top:427.80px;width:12.08px;height:72.50px;background:#e690c0;color:#6a1c46"><span style="width:77.5px">Heartstopper Vol 2</span></div>
<div class="bk" style="left:643.32px;top:427.80px;width:12.08px;height:72.50px;background:#8ea6ea;color:#24336f"><span style="width:77.5px">Atomic Habits</span></div>
<div class="dc" style="left:498.40px;top:415.80px;width:36.23px;height:84.50px"><svg width="36.2" height="84.5" style="position:absolute;left:0;top:0">
<g transform="translate(18.12,84.50)">
<path d="M-9,-23.5 L9,-23.5 C14,-21 13.8,-18 13.6,-12 C13.4,-5 9,-0.5 4,0 L-4,0 C-9,-0.5 -13.4,-5 -13.6,-12 C-13.8,-18 -14,-21 -9,-23.5 Z" fill="#cfe8f2"/>
<path d="M-9,-22 L9,-22 C11,-20.5 11.5,-19.5 11.8,-18.5 L-11.8,-18.5 C-11.5,-19.5 -11,-20.5 -9,-22 Z" fill="#a9a6df"/>
<path d="M-12.5,-16 C-13,-10 -11,-5 -8,-3 L-9,-14 Z" fill="#eef6fb"/>
<ellipse cx="-4.5" cy="-12.5" rx="3.3" ry="1.9" fill="#e6a23a"/>
<ellipse cx="-0.5" cy="-11.5" rx="2.6" ry="1.8" fill="#d55a40"/>
<ellipse cx="6.5" cy="-14.5" rx="3" ry="1.6" fill="#e2632e"/>
<ellipse cx="-4" cy="-8" rx="2.2" ry="1.6" fill="#d86a4a"/>
<ellipse cx="4.5" cy="-7.5" rx="2.8" ry="1.6" fill="#e7b53e"/>
<path d="M-10,-3.5 C-5,-5 5,-5 10,-3.5 L5,0 L-5,0 Z" fill="#c8b49a"/>
<circle cx="-5" cy="-2" r="0.9" fill="#e05050"/><circle cx="1" cy="-2.5" r="0.9" fill="#5080e0"/><circle cx="5" cy="-1.5" r="0.9" fill="#e08a40"/>
</g></svg></div>
<div class="sb" style="left:498.40px;top:510.00px;width:157.00px;height:84.50px"></div>
<div class="bk" style="left:498.40px;top:522.00px;width:12.08px;height:72.50px;background:#8ed4cf;color:#1b4c4a"><span style="width:77.5px">Heartstopper Vol 3</span></div>
<div class="bk" style="left:510.48px;top:534.00px;width:12.08px;height:60.50px;background:#8ea6ea;color:#24336f"><span style="width:62.5px">Heartstopper Vol 4</span></div>
<div class="bk" style="left:522.55px;top:522.00px;width:12.08px;height:72.50px;background:#efc45d;color:#573905"><span style="width:77.5px">Heartstopper Vol 1</span></div>
<div class="bk" style="left:534.63px;top:534.00px;width:12.08px;height:60.50px;background:#e690c0;color:#6a1c46"><span style="width:62.5px">The Light We Carry</span></div>
<div class="bk" style="left:582.94px;top:522.00px;width:12.08px;height:72.50px;background:#8c81cc;color:#f6f2ff"><span style="width:77.5px">Harry Potter 1</span></div>
<div class="bk" style="left:595.02px;top:522.00px;width:12.08px;height:72.50px;background:#8ed4cf;color:#1b4c4a"><span style="width:77.5px">Muse of Nightmares</span></div>
<div class="bk" style="left:607.09px;top:534.00px;width:12.08px;height:60.50px;background:#8ea6ea;color:#24336f"><span style="width:62.5px">Harry Potter 2</span></div>
<div class="bk" style="left:619.17px;top:522.00px;width:12.08px;height:72.50px;background:#efc45d;color:#573905"><span style="width:77.5px">Harry Potter 3</span></div>
<div class="bk" style="left:631.25px;top:534.00px;width:12.08px;height:60.50px;background:#e690c0;color:#6a1c46"><span style="width:62.5px">Harry Potter 4</span></div>
<div class="bk" style="left:643.32px;top:522.00px;width:12.08px;height:72.50px;background:#8c81cc;color:#f6f2ff"><span style="width:77.5px">The Gilded Wolves</span></div>
<div class="dc" style="left:546.71px;top:510.00px;width:36.23px;height:84.50px"><svg width="36.2" height="84.5" style="position:absolute;left:0;top:0">
<g transform="translate(16.32,84.50)">
<path d="M-3,-27.3 L3.5,-27.3 C4.5,-21 8.8,-15 8.6,-6 C8.4,-1.5 5,0 0,0 C-5,0 -8.4,-1.5 -8.6,-6 C-8.8,-15 -4.5,-21 -3,-27.3 Z" fill="url(#vaseg)"/>
<path d="M0,-27 L-6,-36 M1,-27 L4,-33 M0.5,-27 L-1,-38" stroke="#3f6b34" stroke-width="1.1"/>
<g stroke="#8fc46a" stroke-width="3.2" stroke-linecap="round"><path d="M-8,-34 L-13,-34" /><path d="M-8,-36 L-13.5,-38.5" /><path d="M-8,-38 L-12.5,-42.5" /><path d="M-8,-40 L-10,-45.5" /><path d="M-7.5,-33 L-9,-31.5" /></g>
<path d="M-8,-32 L-8.5,-44" stroke="#8fc46a" stroke-width="3" stroke-linecap="round"/>
<g stroke="#97ca72" stroke-width="3.6" stroke-linecap="round"><path d="M3,-34 L0,-45" /><path d="M4,-34 L5,-46" /><path d="M5,-33 L10,-45" /><path d="M6,-32 L14,-41" /><path d="M6,-31 L16,-35" /><path d="M6,-30 L15,-29" /><path d="M5,-29 L11,-25" /></g>
<circle cx="5" cy="-33" r="4" fill="#97ca72"/>
</g></svg></div>
<div class="sb" style="left:498.40px;top:603.80px;width:157.00px;height:84.50px"></div>
<div class="bk" style="left:498.40px;top:615.80px;width:12.08px;height:72.50px;background:#efc45d;color:#573905"><span style="width:77.5px">Harry Potter 5</span></div>
<div class="bk" style="left:510.48px;top:627.80px;width:12.08px;height:60.50px;background:#e690c0;color:#6a1c46"><span style="width:62.5px">Harry Potter 6</span></div>
<div class="bk" style="left:522.55px;top:615.80px;width:12.08px;height:72.50px;background:#8ea6ea;color:#24336f"><span style="width:77.5px">Harry Potter 7</span></div>
<div class="bk" style="left:534.63px;top:627.80px;width:12.08px;height:60.50px;background:#8ed4cf;color:#1b4c4a"><span style="width:62.5px">The Little Prince</span></div>
<div class="bk" style="left:546.71px;top:615.80px;width:12.08px;height:72.50px;background:#efc45d;color:#573905"><span style="width:77.5px">The Psychology of Money</span></div>
<div class="bk" style="left:558.78px;top:615.80px;width:12.08px;height:72.50px;background:#8c81cc;color:#f6f2ff"><span style="width:77.5px">A Darker Shade of Magic</span></div>
<div class="bk" style="left:570.86px;top:627.80px;width:12.08px;height:60.50px;background:#e690c0;color:#6a1c46"><span style="width:62.5px">The Midnight Library</span></div>
<div class="bk" style="left:582.94px;top:615.80px;width:12.08px;height:72.50px;background:#8ea6ea;color:#24336f"><span style="width:77.5px">The Book Thief</span></div>
<div class="bk" style="left:595.02px;top:627.80px;width:12.08px;height:60.50px;background:#8ed4cf;color:#1b4c4a"><span style="width:62.5px">The Song of Achilles</span></div>
<div class="bk" style="left:607.09px;top:615.80px;width:12.08px;height:72.50px;background:#8c81cc;color:#f6f2ff"><span style="width:77.5px">The Nightingale</span></div>
<div class="dc" style="left:619.17px;top:603.80px;width:36.23px;height:84.50px"><svg width="36.2" height="84.5" style="position:absolute;left:0;top:0">
<g transform="translate(18.12,84.50)">
<g fill="#5f8f45">
<path d="M-4,-10 C-6,-18 -5,-24 -3,-28 C-1,-24 -1,-16 -1,-10 Z"/>
<path d="M3,-10 C4,-18 7,-24 11,-27 C10,-20 8,-14 6,-10 Z"/>
</g>
<g fill="#86c05a">
<path d="M-9,-10 C-12,-14 -13,-18 -12,-20 C-9,-18 -6,-14 -4,-10 Z"/>
<path d="M-5,-10 C-7,-16 -6,-22 -4,-25 C-2,-21 -1,-15 -1,-10 Z" fill="#7bb752"/>
<path d="M-1,-10 C-1,-17 1,-23 3,-26 C5,-21 4,-15 3,-10 Z" fill="#95cc62"/>
<path d="M2,-10 C4,-15 7,-19 10,-21 C9,-16 7,-13 6,-10 Z"/>
<path d="M5,-10 C8,-13 11,-15 13,-16 C12,-13 10,-11 8,-10 Z" fill="#7bb752"/>
</g>
<path d="M-10,-10.5 L10,-10.5 L8,0 L-8,0 Z" fill="#a5bfe3"/>
<path d="M-10,-10.5 L10,-10.5 L9.6,-8.5 L-9.6,-8.5 Z" fill="#b8cdea"/>
</g></svg></div>
<div class="sb" style="left:498.40px;top:697.80px;width:157.00px;height:84.50px"></div>
<div class="bk" style="left:498.40px;top:709.80px;width:12.08px;height:72.50px;background:#8ea6ea;color:#24336f"><span style="width:77.5px">The Marriage Portrait</span></div>
<div class="bk" style="left:510.48px;top:721.80px;width:12.08px;height:60.50px;background:#8ed4cf;color:#1b4c4a"><span style="width:62.5px">The Poppy War</span></div>
<div class="bk" style="left:522.55px;top:709.80px;width:12.08px;height:72.50px;background:#e690c0;color:#6a1c46"><span style="width:77.5px">Hamnet</span></div>
<div class="bk" style="left:534.63px;top:721.80px;width:12.08px;height:60.50px;background:#8c81cc;color:#f6f2ff"><span style="width:62.5px">Circe</span></div>
<div class="bk" style="left:546.71px;top:709.80px;width:12.08px;height:72.50px;background:#efc45d;color:#573905"><span style="width:77.5px">Strange the Dreamer</span></div>
<div class="bk" style="left:595.02px;top:709.80px;width:12.08px;height:72.50px;background:#8ea6ea;color:#24336f"><span style="width:77.5px">Red White &amp; Royal Blue</span></div>
<div class="bk" style="left:607.09px;top:721.80px;width:12.08px;height:60.50px;background:#8ed4cf;color:#1b4c4a"><span style="width:62.5px">Cemetery Boys</span></div>
<div class="bk" style="left:619.17px;top:709.80px;width:12.08px;height:72.50px;background:#e690c0;color:#6a1c46"><span style="width:77.5px">The Raven Boys</span></div>
<div class="bk" style="left:631.25px;top:721.80px;width:12.08px;height:60.50px;background:#8c81cc;color:#f6f2ff"><span style="width:62.5px">The City We Became</span></div>
<div class="bk" style="left:643.32px;top:709.80px;width:12.08px;height:72.50px;background:#efc45d;color:#573905"><span style="width:77.5px">The House at the Cerulean Sea</span></div>
<div class="dc" style="left:558.78px;top:697.80px;width:36.23px;height:84.50px"><svg width="36.2" height="84.5" style="position:absolute;left:0;top:0">
<g transform="translate(18.12,84.50)">
<circle cx="-4.6" cy="-19.2" r="1.6" fill="#d4d6d8"/><circle cx="0" cy="-20.2" r="1.6" fill="#d4d6d8"/><circle cx="4.6" cy="-19.2" r="1.6" fill="#d4d6d8"/>
<circle cx="0" cy="-9.6" r="9.2" fill="#d2334b"/>
<circle cx="0" cy="-9.6" r="6.6" fill="#f6f4f6"/>
<path d="M0,-9.6 L0,-13.5 M0,-9.6 L3,-10.5" stroke="#555" stroke-width=".9"/>
</g></svg></div>
<div class="sb" style="left:693.90px;top:321.50px;width:157.00px;height:84.50px"></div>
<div class="bk" style="left:693.90px;top:333.50px;width:12.08px;height:72.50px;background:#8ea6ea;color:#24336f"><span style="width:77.5px">The Book Of Love</span></div>
<div class="bk" style="left:705.98px;top:345.50px;width:12.08px;height:60.50px;background:#8ed4cf;color:#1b4c4a"><span style="width:62.5px">The Night Tiger</span></div>
<div class="bk" style="left:718.05px;top:333.50px;width:12.08px;height:72.50px;background:#e690c0;color:#6a1c46"><span style="width:77.5px">Malibu Rising</span></div>
<div class="bk" style="left:730.13px;top:345.50px;width:12.08px;height:60.50px;background:#8c81cc;color:#f6f2ff"><span style="width:62.5px">Big Little Lies</span></div>
<div class="bk" style="left:742.21px;top:333.50px;width:12.08px;height:72.50px;background:#efc45d;color:#573905"><span style="width:77.5px">The Rosie Project</span></div>
<div class="bk" style="left:754.28px;top:333.50px;width:12.08px;height:72.50px;background:#8ea6ea;color:#24336f"><span style="width:77.5px">One Golden Summer</span></div>
<div class="bk" style="left:766.36px;top:345.50px;width:12.08px;height:60.50px;background:#8ed4cf;color:#1b4c4a"><span style="width:62.5px">They Both Die at the End</span></div>
<div class="bk" style="left:778.44px;top:333.50px;width:12.08px;height:72.50px;background:#e690c0;color:#6a1c46"><span style="width:77.5px">Where the Crawdads Sing</span></div>
<div class="bk" style="left:826.75px;top:345.50px;width:12.08px;height:60.50px;background:#8c81cc;color:#f6f2ff"><span style="width:62.5px">Heartstopper Vol 2</span></div>
<div class="bk" style="left:838.82px;top:333.50px;width:12.08px;height:72.50px;background:#efc45d;color:#573905"><span style="width:77.5px">Heartstopper Vol 3</span></div>
<div class="dc" style="left:790.52px;top:321.50px;width:36.23px;height:84.50px"><svg width="36.2" height="84.5" style="position:absolute;left:0;top:0">
<g transform="translate(18.12,84.50)">
<g fill="#5f8f45">
<path d="M-4,-10 C-6,-18 -5,-24 -3,-28 C-1,-24 -1,-16 -1,-10 Z"/>
<path d="M3,-10 C4,-18 7,-24 11,-27 C10,-20 8,-14 6,-10 Z"/>
</g>
<g fill="#86c05a">
<path d="M-9,-10 C-12,-14 -13,-18 -12,-20 C-9,-18 -6,-14 -4,-10 Z"/>
<path d="M-5,-10 C-7,-16 -6,-22 -4,-25 C-2,-21 -1,-15 -1,-10 Z" fill="#7bb752"/>
<path d="M-1,-10 C-1,-17 1,-23 3,-26 C5,-21 4,-15 3,-10 Z" fill="#95cc62"/>
<path d="M2,-10 C4,-15 7,-19 10,-21 C9,-16 7,-13 6,-10 Z"/>
<path d="M5,-10 C8,-13 11,-15 13,-16 C12,-13 10,-11 8,-10 Z" fill="#7bb752"/>
</g>
<path d="M-10,-10.5 L10,-10.5 L8,0 L-8,0 Z" fill="#a5bfe3"/>
<path d="M-10,-10.5 L10,-10.5 L9.6,-8.5 L-9.6,-8.5 Z" fill="#b8cdea"/>
</g></svg></div>
<div class="sb" style="left:693.90px;top:415.80px;width:157.00px;height:84.50px"></div>
<div class="bk" style="left:730.13px;top:439.80px;width:12.08px;height:60.50px;background:#8c81cc;color:#f6f2ff"><span style="width:62.5px">Heartstopper Vol 4</span></div>
<div class="bk" style="left:742.21px;top:427.80px;width:12.08px;height:72.50px;background:#efc45d;color:#573905"><span style="width:77.5px">Heartstopper Vol 1</span></div>
<div class="bk" style="left:754.28px;top:439.80px;width:12.08px;height:60.50px;background:#8ed4cf;color:#1b4c4a"><span style="width:62.5px">Harry Potter 1</span></div>
<div class="bk" style="left:766.36px;top:427.80px;width:12.08px;height:72.50px;background:#e690c0;color:#6a1c46"><span style="width:77.5px">Harry Potter 2</span></div>
<div class="bk" style="left:778.44px;top:427.80px;width:12.08px;height:72.50px;background:#8ea6ea;color:#24336f"><span style="width:77.5px">Harry Potter 3</span></div>
<div class="bk" style="left:790.52px;top:439.80px;width:12.08px;height:60.50px;background:#8c81cc;color:#f6f2ff"><span style="width:62.5px">Harry Potter 4</span></div>
<div class="bk" style="left:802.59px;top:427.80px;width:12.08px;height:72.50px;background:#efc45d;color:#573905"><span style="width:77.5px">Harry Potter 5</span></div>
<div class="bk" style="left:814.67px;top:439.80px;width:12.08px;height:60.50px;background:#8ed4cf;color:#1b4c4a"><span style="width:62.5px">Harry Potter 6</span></div>
<div class="bk" style="left:826.75px;top:427.80px;width:12.08px;height:72.50px;background:#e690c0;color:#6a1c46"><span style="width:77.5px">Harry Potter 7</span></div>
<div class="bk" style="left:838.82px;top:427.80px;width:12.08px;height:72.50px;background:#8ea6ea;color:#24336f"><span style="width:77.5px">The Little Prince</span></div>
<div class="dc" style="left:693.90px;top:415.80px;width:36.23px;height:84.50px"><svg width="36.2" height="84.5" style="position:absolute;left:0;top:0">
<g transform="translate(18.12,84.50)">
<circle cx="-4.6" cy="-19.2" r="1.6" fill="#d4d6d8"/><circle cx="0" cy="-20.2" r="1.6" fill="#d4d6d8"/><circle cx="4.6" cy="-19.2" r="1.6" fill="#d4d6d8"/>
<circle cx="0" cy="-9.6" r="9.2" fill="#d2334b"/>
<circle cx="0" cy="-9.6" r="6.6" fill="#f6f4f6"/>
<path d="M0,-9.6 L0,-13.5 M0,-9.6 L3,-10.5" stroke="#555" stroke-width=".9"/>
</g></svg></div>
<div class="sb" style="left:693.90px;top:510.00px;width:157.00px;height:84.50px"></div>
<div class="bk" style="left:693.90px;top:522.00px;width:12.08px;height:72.50px;background:#8ed4cf;color:#1b4c4a"><span style="width:77.5px">The Midnight Library</span></div>
<div class="bk" style="left:705.98px;top:534.00px;width:12.08px;height:60.50px;background:#8ea6ea;color:#24336f"><span style="width:62.5px">The Book Thief</span></div>
<div class="bk" style="left:718.05px;top:522.00px;width:12.08px;height:72.50px;background:#efc45d;color:#573905"><span style="width:77.5px">The Song of Achilles</span></div>
<div class="bk" style="left:730.13px;top:534.00px;width:12.08px;height:60.50px;background:#e690c0;color:#6a1c46"><span style="width:62.5px">The Nightingale</span></div>
<div class="bk" style="left:778.44px;top:522.00px;width:12.08px;height:72.50px;background:#8c81cc;color:#f6f2ff"><span style="width:77.5px">The Marriage Portrait</span></div>
<div class="bk" style="left:790.52px;top:522.00px;width:12.08px;height:72.50px;background:#8ed4cf;color:#1b4c4a"><span style="width:77.5px">The Poppy War</span></div>
<div class="bk" style="left:802.59px;top:534.00px;width:12.08px;height:60.50px;background:#8ea6ea;color:#24336f"><span style="width:62.5px">Hamnet</span></div>
<div class="bk" style="left:814.67px;top:522.00px;width:12.08px;height:72.50px;background:#efc45d;color:#573905"><span style="width:77.5px">Circe</span></div>
<div class="bk" style="left:826.75px;top:534.00px;width:12.08px;height:60.50px;background:#e690c0;color:#6a1c46"><span style="width:62.5px">Cemetery Boys</span></div>
<div class="bk" style="left:838.82px;top:522.00px;width:12.08px;height:72.50px;background:#8c81cc;color:#f6f2ff"><span style="width:77.5px">The Raven Boys</span></div>
<div class="dc" style="left:742.21px;top:510.00px;width:36.23px;height:84.50px"><svg width="36.2" height="84.5" style="position:absolute;left:0;top:0">
<g transform="translate(18.12,84.50)">
<path d="M-9,-23.5 L9,-23.5 C14,-21 13.8,-18 13.6,-12 C13.4,-5 9,-0.5 4,0 L-4,0 C-9,-0.5 -13.4,-5 -13.6,-12 C-13.8,-18 -14,-21 -9,-23.5 Z" fill="#cfe8f2"/>
<path d="M-9,-22 L9,-22 C11,-20.5 11.5,-19.5 11.8,-18.5 L-11.8,-18.5 C-11.5,-19.5 -11,-20.5 -9,-22 Z" fill="#a9a6df"/>
<path d="M-12.5,-16 C-13,-10 -11,-5 -8,-3 L-9,-14 Z" fill="#eef6fb"/>
<ellipse cx="-4.5" cy="-12.5" rx="3.3" ry="1.9" fill="#e6a23a"/>
<ellipse cx="-0.5" cy="-11.5" rx="2.6" ry="1.8" fill="#d55a40"/>
<ellipse cx="6.5" cy="-14.5" rx="3" ry="1.6" fill="#e2632e"/>
<ellipse cx="-4" cy="-8" rx="2.2" ry="1.6" fill="#d86a4a"/>
<ellipse cx="4.5" cy="-7.5" rx="2.8" ry="1.6" fill="#e7b53e"/>
<path d="M-10,-3.5 C-5,-5 5,-5 10,-3.5 L5,0 L-5,0 Z" fill="#c8b49a"/>
<circle cx="-5" cy="-2" r="0.9" fill="#e05050"/><circle cx="1" cy="-2.5" r="0.9" fill="#5080e0"/><circle cx="5" cy="-1.5" r="0.9" fill="#e08a40"/>
</g></svg></div>
<div class="sb" style="left:693.90px;top:603.80px;width:157.00px;height:84.50px"></div>
<div class="bk" style="left:693.90px;top:615.80px;width:12.08px;height:72.50px;background:#efc45d;color:#573905"><span style="width:77.5px">The House at the Cerulean Sea</span></div>
<div class="bk" style="left:705.98px;top:627.80px;width:12.08px;height:60.50px;background:#e690c0;color:#6a1c46"><span style="width:62.5px">Lessons in Chemistry</span></div>
<div class="bk" style="left:718.05px;top:615.80px;width:12.08px;height:72.50px;background:#8ea6ea;color:#24336f"><span style="width:77.5px">Tomorrow and Tomorrow and Tomorrow</span></div>
<div class="bk" style="left:730.13px;top:627.80px;width:12.08px;height:60.50px;background:#8ed4cf;color:#1b4c4a"><span style="width:62.5px">Klara and the Sun</span></div>
<div class="bk" style="left:742.21px;top:615.80px;width:12.08px;height:72.50px;background:#efc45d;color:#573905"><span style="width:77.5px">The Seven Husbands of Evelyn Hugo</span></div>
<div class="bk" style="left:754.28px;top:615.80px;width:12.08px;height:72.50px;background:#8c81cc;color:#f6f2ff"><span style="width:77.5px">Daisy Jones &amp; The Six</span></div>
<div class="bk" style="left:766.36px;top:627.80px;width:12.08px;height:60.50px;background:#e690c0;color:#6a1c46"><span style="width:62.5px">The Book of Love</span></div>
<div class="bk" style="left:778.44px;top:615.80px;width:12.08px;height:72.50px;background:#8ea6ea;color:#24336f"><span style="width:77.5px">The Night Tiger</span></div>
<div class="bk" style="left:790.52px;top:627.80px;width:12.08px;height:60.50px;background:#8ed4cf;color:#1b4c4a"><span style="width:62.5px">Malibu Rising</span></div>
<div class="bk" style="left:802.59px;top:615.80px;width:12.08px;height:72.50px;background:#8c81cc;color:#f6f2ff"><span style="width:77.5px">Big Little Lies</span></div>
<div class="dc" style="left:814.67px;top:603.80px;width:36.23px;height:84.50px"><svg width="36.2" height="84.5" style="position:absolute;left:0;top:0">
<g transform="translate(16.32,84.50)">
<path d="M-3,-27.3 L3.5,-27.3 C4.5,-21 8.8,-15 8.6,-6 C8.4,-1.5 5,0 0,0 C-5,0 -8.4,-1.5 -8.6,-6 C-8.8,-15 -4.5,-21 -3,-27.3 Z" fill="url(#vaseg)"/>
<path d="M0,-27 L-6,-36 M1,-27 L4,-33 M0.5,-27 L-1,-38" stroke="#3f6b34" stroke-width="1.1"/>
<g stroke="#8fc46a" stroke-width="3.2" stroke-linecap="round"><path d="M-8,-34 L-13,-34" /><path d="M-8,-36 L-13.5,-38.5" /><path d="M-8,-38 L-12.5,-42.5" /><path d="M-8,-40 L-10,-45.5" /><path d="M-7.5,-33 L-9,-31.5" /></g>
<path d="M-8,-32 L-8.5,-44" stroke="#8fc46a" stroke-width="3" stroke-linecap="round"/>
<g stroke="#97ca72" stroke-width="3.6" stroke-linecap="round"><path d="M3,-34 L0,-45" /><path d="M4,-34 L5,-46" /><path d="M5,-33 L10,-45" /><path d="M6,-32 L14,-41" /><path d="M6,-31 L16,-35" /><path d="M6,-30 L15,-29" /><path d="M5,-29 L11,-25" /></g>
<circle cx="5" cy="-33" r="4" fill="#97ca72"/>
</g></svg></div>
<div class="sb" style="left:693.90px;top:697.80px;width:157.00px;height:84.50px"></div>
<div class="bk" style="left:693.90px;top:709.80px;width:12.08px;height:72.50px;background:#8ea6ea;color:#24336f"><span style="width:77.5px">The Rosie Project</span></div>
<div class="bk" style="left:705.98px;top:721.80px;width:12.08px;height:60.50px;background:#8ed4cf;color:#1b4c4a"><span style="width:62.5px">One Golden Summer</span></div>
<div class="bk" style="left:718.05px;top:709.80px;width:12.08px;height:72.50px;background:#e690c0;color:#6a1c46"><span style="width:77.5px">They Both Die at the End</span></div>
<div class="bk" style="left:730.13px;top:721.80px;width:12.08px;height:60.50px;background:#8c81cc;color:#f6f2ff"><span style="width:62.5px">Where the Crawdads Sing</span></div>
<div class="bk" style="left:742.21px;top:709.80px;width:12.08px;height:72.50px;background:#efc45d;color:#573905"><span style="width:77.5px">Heartstopper Vol 2</span></div>
<div class="bk" style="left:790.52px;top:709.80px;width:12.08px;height:72.50px;background:#8ea6ea;color:#24336f"><span style="width:77.5px">Heartstopper Vol 3</span></div>
<div class="bk" style="left:802.59px;top:721.80px;width:12.08px;height:60.50px;background:#8ed4cf;color:#1b4c4a"><span style="width:62.5px">Heartstopper Vol 4</span></div>
<div class="bk" style="left:814.67px;top:709.80px;width:12.08px;height:72.50px;background:#e690c0;color:#6a1c46"><span style="width:77.5px">Heartstopper Vol 1</span></div>
<div class="bk" style="left:826.75px;top:721.80px;width:12.08px;height:60.50px;background:#8c81cc;color:#f6f2ff"><span style="width:62.5px">Harry Potter 1</span></div>
<div class="bk" style="left:838.82px;top:709.80px;width:12.08px;height:72.50px;background:#efc45d;color:#573905"><span style="width:77.5px">Harry Potter 2</span></div>
<div class="dc" style="left:754.28px;top:697.80px;width:36.23px;height:84.50px"><svg width="36.2" height="84.5" style="position:absolute;left:0;top:0">
<g transform="translate(18.12,0)">
<g fill="#6ea84f">
<ellipse cx="-14" cy="17.5" rx="3.2" ry="3.5"/><ellipse cx="-10.5" cy="13" rx="3.6" ry="3.4"/>
<ellipse cx="-5.5" cy="9" rx="3.8" ry="3.8"/><ellipse cx="0" cy="6" rx="3.8" ry="3.8"/>
<ellipse cx="2" cy="2.5" rx="2.6" ry="2.4"/>
<ellipse cx="6" cy="8" rx="4" ry="4"/><ellipse cx="10" cy="13" rx="4" ry="4"/>
<ellipse cx="13.5" cy="18" rx="3" ry="3"/><ellipse cx="4" cy="15" rx="4.2" ry="4"/>
<ellipse cx="-5" cy="14.5" rx="3.3" ry="3.2"/><ellipse cx="-16" cy="20.5" rx="2.3" ry="2.3"/>
<ellipse cx="7.5" cy="20.5" rx="2.8" ry="2.6"/>
<ellipse cx="7" cy="29.7" rx="2.6" ry="2.5"/><ellipse cx="7" cy="41.5" rx="2.9" ry="2.9"/><ellipse cx="3" cy="39.5" rx="1.8" ry="2"/>
</g>
<g fill="#8cc46a"><ellipse cx="-9" cy="11.5" rx="2" ry="1.8"/><ellipse cx="1" cy="4.5" rx="1.8" ry="1.6"/><ellipse cx="8" cy="11" rx="2" ry="1.8"/><ellipse cx="-13" cy="16.5" rx="1.6" ry="1.6"/></g>
<g fill="#4b7a36"><ellipse cx="3" cy="9.5" rx="2.2" ry="2.2"/><ellipse cx="10.5" cy="17" rx="1.8" ry="1.8"/><ellipse cx="-3" cy="11" rx="1.8" ry="1.8"/></g>
<path d="M-3.5,15.5 L4.5,15.5 L4,21.5 L-3,21.5 Z" fill="#eef0f2"/>
</g></svg></div>
<div class="sb" style="left:889.40px;top:321.50px;width:157.00px;height:84.50px"></div>
<div class="bk" style="left:889.40px;top:333.50px;width:12.08px;height:72.50px;background:#8ea6ea;color:#24336f"><span style="width:77.5px">Beach Read</span></div>
<div class="bk" style="left:901.48px;top:345.50px;width:12.08px;height:60.50px;background:#8ed4cf;color:#1b4c4a"><span style="width:62.5px">The Book of Love</span></div>
<div class="bk" style="left:913.55px;top:333.50px;width:12.08px;height:72.50px;background:#e690c0;color:#6a1c46"><span style="width:77.5px">The Priory of the Orange Tree</span></div>
<div class="bk" style="left:925.63px;top:345.50px;width:12.08px;height:60.50px;background:#8c81cc;color:#f6f2ff"><span style="width:62.5px">Malibu Rising</span></div>
<div class="bk" style="left:937.71px;top:333.50px;width:12.08px;height:72.50px;background:#efc45d;color:#573905"><span style="width:77.5px">Big Little Lies</span></div>
<div class="bk" style="left:949.78px;top:333.50px;width:12.08px;height:72.50px;background:#8ea6ea;color:#24336f"><span style="width:77.5px">A Gathering of Shadows</span></div>
<div class="bk" style="left:961.86px;top:345.50px;width:12.08px;height:60.50px;background:#8ed4cf;color:#1b4c4a"><span style="width:62.5px">The House in the Cerulean Sea</span></div>
<div class="bk" style="left:973.94px;top:333.50px;width:12.08px;height:72.50px;background:#e690c0;color:#6a1c46"><span style="width:77.5px">The Rosie Project</span></div>
<div class="bk" style="left:1022.25px;top:345.50px;width:12.08px;height:60.50px;background:#8c81cc;color:#f6f2ff"><span style="width:62.5px">One Golden Summer</span></div>
<div class="bk" style="left:1034.32px;top:333.50px;width:12.08px;height:72.50px;background:#efc45d;color:#573905"><span style="width:77.5px">Becoming</span></div>
<div class="dc" style="left:986.02px;top:321.50px;width:36.23px;height:84.50px"><svg width="36.2" height="84.5" style="position:absolute;left:0;top:0">
<g transform="translate(16.92,84.50)">
<path d="M0,-17 L-5,-25 M0,-17 L-1,-31 M0,-17 L5,-28" stroke="#5aa88a" stroke-width="1.3"/>
<ellipse cx="-5.5" cy="-25.5" rx="3.4" ry="3.6" fill="#df3a42"/>
<ellipse cx="6" cy="-30" rx="3.2" ry="3.8" fill="#e23c44"/>
<ellipse cx="-1" cy="-34.5" rx="3" ry="3.2" fill="#d57ad0"/>
<path d="M-7.2,-17.4 L7.2,-17.4 L7.2,-2 C7.2,-0.5 6,0 4.5,0 L-4.5,0 C-6,0 -7.2,-0.5 -7.2,-2 Z" fill="#efc64a"/>
<path d="M-7.2,-17.4 L7.2,-17.4 L7.2,-15 L-7.2,-15 Z" fill="#d9b23e"/>
<path d="M2,-16 L4,-8 M3,-15 L9,-12 L10,-8" stroke="#c8352e" stroke-width="1.6" fill="none"/>
</g></svg></div>
<div class="sb" style="left:889.40px;top:415.80px;width:157.00px;height:84.50px"></div>
<div class="bk" style="left:925.63px;top:439.80px;width:12.08px;height:60.50px;background:#8c81cc;color:#f6f2ff"><span style="width:62.5px">Legendborn</span></div>
<div class="bk" style="left:937.71px;top:427.80px;width:12.08px;height:72.50px;background:#efc45d;color:#573905"><span style="width:77.5px">Heartstopper Vol 2</span></div>
<div class="bk" style="left:949.78px;top:439.80px;width:12.08px;height:60.50px;background:#8ed4cf;color:#1b4c4a"><span style="width:62.5px">Atomic Habits</span></div>
<div class="bk" style="left:961.86px;top:427.80px;width:12.08px;height:72.50px;background:#e690c0;color:#6a1c46"><span style="width:77.5px">Heartstopper Vol 3</span></div>
<div class="bk" style="left:973.94px;top:427.80px;width:12.08px;height:72.50px;background:#8ea6ea;color:#24336f"><span style="width:77.5px">Heartstopper Vol 4</span></div>
<div class="bk" style="left:986.02px;top:439.80px;width:12.08px;height:60.50px;background:#8c81cc;color:#f6f2ff"><span style="width:62.5px">Heartstopper Vol 1</span></div>
<div class="bk" style="left:998.09px;top:427.80px;width:12.08px;height:72.50px;background:#efc45d;color:#573905"><span style="width:77.5px">The Light We Carry</span></div>
<div class="bk" style="left:1010.17px;top:439.80px;width:12.08px;height:60.50px;background:#8ed4cf;color:#1b4c4a"><span style="width:62.5px">Harry Potter 1</span></div>
<div class="bk" style="left:1022.25px;top:427.80px;width:12.08px;height:72.50px;background:#e690c0;color:#6a1c46"><span style="width:77.5px">Muse of Nightmares</span></div>
<div class="bk" style="left:1034.32px;top:427.80px;width:12.08px;height:72.50px;background:#8ea6ea;color:#24336f"><span style="width:77.5px">Harry Potter 2</span></div>
<div class="dc" style="left:889.40px;top:415.80px;width:36.23px;height:84.50px"><svg width="36.2" height="84.5" style="position:absolute;left:0;top:0">
<g transform="translate(18.12,0)">
<g fill="#6ea84f">
<ellipse cx="-14" cy="17.5" rx="3.2" ry="3.5"/><ellipse cx="-10.5" cy="13" rx="3.6" ry="3.4"/>
<ellipse cx="-5.5" cy="9" rx="3.8" ry="3.8"/><ellipse cx="0" cy="6" rx="3.8" ry="3.8"/>
<ellipse cx="2" cy="2.5" rx="2.6" ry="2.4"/>
<ellipse cx="6" cy="8" rx="4" ry="4"/><ellipse cx="10" cy="13" rx="4" ry="4"/>
<ellipse cx="13.5" cy="18" rx="3" ry="3"/><ellipse cx="4" cy="15" rx="4.2" ry="4"/>
<ellipse cx="-5" cy="14.5" rx="3.3" ry="3.2"/><ellipse cx="-16" cy="20.5" rx="2.3" ry="2.3"/>
<ellipse cx="7.5" cy="20.5" rx="2.8" ry="2.6"/>
<ellipse cx="7" cy="29.7" rx="2.6" ry="2.5"/><ellipse cx="7" cy="41.5" rx="2.9" ry="2.9"/><ellipse cx="3" cy="39.5" rx="1.8" ry="2"/>
</g>
<g fill="#8cc46a"><ellipse cx="-9" cy="11.5" rx="2" ry="1.8"/><ellipse cx="1" cy="4.5" rx="1.8" ry="1.6"/><ellipse cx="8" cy="11" rx="2" ry="1.8"/><ellipse cx="-13" cy="16.5" rx="1.6" ry="1.6"/></g>
<g fill="#4b7a36"><ellipse cx="3" cy="9.5" rx="2.2" ry="2.2"/><ellipse cx="10.5" cy="17" rx="1.8" ry="1.8"/><ellipse cx="-3" cy="11" rx="1.8" ry="1.8"/></g>
<path d="M-3.5,15.5 L4.5,15.5 L4,21.5 L-3,21.5 Z" fill="#eef0f2"/>
</g></svg></div>
<div class="sb" style="left:889.40px;top:510.00px;width:157.00px;height:84.50px"></div>
<div class="bk" style="left:889.40px;top:522.00px;width:12.08px;height:72.50px;background:#8ed4cf;color:#1b4c4a"><span style="width:77.5px">Harry Potter 4</span></div>
<div class="bk" style="left:901.48px;top:534.00px;width:12.08px;height:60.50px;background:#8ea6ea;color:#24336f"><span style="width:62.5px">Harry Potter 5</span></div>
<div class="bk" style="left:913.55px;top:522.00px;width:12.08px;height:72.50px;background:#efc45d;color:#573905"><span style="width:77.5px">The Little Prince</span></div>
<div class="bk" style="left:925.63px;top:534.00px;width:12.08px;height:60.50px;background:#e690c0;color:#6a1c46"><span style="width:62.5px">A Darker Shade of Magic</span></div>
<div class="bk" style="left:973.94px;top:522.00px;width:12.08px;height:72.50px;background:#8c81cc;color:#f6f2ff"><span style="width:77.5px">The Song of Achilles</span></div>
<div class="bk" style="left:986.02px;top:522.00px;width:12.08px;height:72.50px;background:#8ed4cf;color:#1b4c4a"><span style="width:77.5px">The Poppy War</span></div>
<div class="bk" style="left:998.09px;top:534.00px;width:12.08px;height:60.50px;background:#8ea6ea;color:#24336f"><span style="width:62.5px">Hamnet</span></div>
<div class="bk" style="left:1010.17px;top:522.00px;width:12.08px;height:72.50px;background:#efc45d;color:#573905"><span style="width:77.5px">Strange the Dreamer</span></div>
<div class="bk" style="left:1022.25px;top:534.00px;width:12.08px;height:60.50px;background:#e690c0;color:#6a1c46"><span style="width:62.5px">Red White &amp; Royal Blue</span></div>
<div class="bk" style="left:1034.32px;top:522.00px;width:12.08px;height:72.50px;background:#8c81cc;color:#f6f2ff"><span style="width:77.5px">The Night Circus</span></div>
<div class="dc" style="left:937.71px;top:510.00px;width:36.23px;height:84.50px"><svg width="36.2" height="84.5" style="position:absolute;left:0;top:0">
<g transform="translate(18.12,84.50)">
<circle cx="-4.6" cy="-19.2" r="1.6" fill="#d4d6d8"/><circle cx="0" cy="-20.2" r="1.6" fill="#d4d6d8"/><circle cx="4.6" cy="-19.2" r="1.6" fill="#d4d6d8"/>
<circle cx="0" cy="-9.6" r="9.2" fill="#d2334b"/>
<circle cx="0" cy="-9.6" r="6.6" fill="#f6f4f6"/>
<path d="M0,-9.6 L0,-13.5 M0,-9.6 L3,-10.5" stroke="#555" stroke-width=".9"/>
</g></svg></div>
<div class="sb" style="left:889.40px;top:603.80px;width:157.00px;height:84.50px"></div>
<div class="bk" style="left:889.40px;top:615.80px;width:12.08px;height:72.50px;background:#efc45d;color:#573905"><span style="width:77.5px">Cemetery Boys</span></div>
<div class="bk" style="left:901.48px;top:627.80px;width:12.08px;height:60.50px;background:#e690c0;color:#6a1c46"><span style="width:62.5px">The Raven Boys</span></div>
<div class="bk" style="left:913.55px;top:615.80px;width:12.08px;height:72.50px;background:#8ea6ea;color:#24336f"><span style="width:77.5px">Lessons in Chemistry</span></div>
<div class="bk" style="left:925.63px;top:627.80px;width:12.08px;height:60.50px;background:#8ed4cf;color:#1b4c4a"><span style="width:62.5px">Tomorrow and Tomorrow and Tomorrow</span></div>
<div class="bk" style="left:937.71px;top:615.80px;width:12.08px;height:72.50px;background:#efc45d;color:#573905"><span style="width:77.5px">The Seven Husbands of Evelyn Hugo</span></div>
<div class="bk" style="left:949.78px;top:615.80px;width:12.08px;height:72.50px;background:#8c81cc;color:#f6f2ff"><span style="width:77.5px">Daisy Jones &amp; The Six</span></div>
<div class="bk" style="left:961.86px;top:627.80px;width:12.08px;height:60.50px;background:#e690c0;color:#6a1c46"><span style="width:62.5px">Beach Read</span></div>
<div class="bk" style="left:973.94px;top:615.80px;width:12.08px;height:72.50px;background:#8ea6ea;color:#24336f"><span style="width:77.5px">The Book of Love</span></div>
<div class="bk" style="left:986.02px;top:627.80px;width:12.08px;height:60.50px;background:#8ed4cf;color:#1b4c4a"><span style="width:62.5px">The Priory of the Orange Tree</span></div>
<div class="bk" style="left:998.09px;top:615.80px;width:12.08px;height:72.50px;background:#8c81cc;color:#f6f2ff"><span style="width:77.5px">Malibu Rising</span></div>
<div class="dc" style="left:1010.17px;top:603.80px;width:36.23px;height:84.50px"><svg width="36.2" height="84.5" style="position:absolute;left:0;top:0">
<g transform="translate(18.12,84.50)">
<path d="M-9,-23.5 L9,-23.5 C14,-21 13.8,-18 13.6,-12 C13.4,-5 9,-0.5 4,0 L-4,0 C-9,-0.5 -13.4,-5 -13.6,-12 C-13.8,-18 -14,-21 -9,-23.5 Z" fill="#cfe8f2"/>
<path d="M-9,-22 L9,-22 C11,-20.5 11.5,-19.5 11.8,-18.5 L-11.8,-18.5 C-11.5,-19.5 -11,-20.5 -9,-22 Z" fill="#a9a6df"/>
<path d="M-12.5,-16 C-13,-10 -11,-5 -8,-3 L-9,-14 Z" fill="#eef6fb"/>
<ellipse cx="-4.5" cy="-12.5" rx="3.3" ry="1.9" fill="#e6a23a"/>
<ellipse cx="-0.5" cy="-11.5" rx="2.6" ry="1.8" fill="#d55a40"/>
<ellipse cx="6.5" cy="-14.5" rx="3" ry="1.6" fill="#e2632e"/>
<ellipse cx="-4" cy="-8" rx="2.2" ry="1.6" fill="#d86a4a"/>
<ellipse cx="4.5" cy="-7.5" rx="2.8" ry="1.6" fill="#e7b53e"/>
<path d="M-10,-3.5 C-5,-5 5,-5 10,-3.5 L5,0 L-5,0 Z" fill="#c8b49a"/>
<circle cx="-5" cy="-2" r="0.9" fill="#e05050"/><circle cx="1" cy="-2.5" r="0.9" fill="#5080e0"/><circle cx="5" cy="-1.5" r="0.9" fill="#e08a40"/>
</g></svg></div>
<div class="sb" style="left:889.40px;top:697.80px;width:157.00px;height:84.50px"></div>
<div class="bk" style="left:889.40px;top:709.80px;width:12.08px;height:72.50px;background:#8ea6ea;color:#24336f"><span style="width:77.5px">Big Little Lies</span></div>
<div class="bk" style="left:901.48px;top:721.80px;width:12.08px;height:60.50px;background:#8ed4cf;color:#1b4c4a"><span style="width:62.5px">A Gathering of Shadows</span></div>
<div class="bk" style="left:913.55px;top:709.80px;width:12.08px;height:72.50px;background:#e690c0;color:#6a1c46"><span style="width:77.5px">The House in the Cerulean Sea</span></div>
<div class="bk" style="left:925.63px;top:721.80px;width:12.08px;height:60.50px;background:#8c81cc;color:#f6f2ff"><span style="width:62.5px">The Rosie Project</span></div>
<div class="bk" style="left:937.71px;top:709.80px;width:12.08px;height:72.50px;background:#efc45d;color:#573905"><span style="width:77.5px">One Golden Summer</span></div>
<div class="bk" style="left:986.02px;top:709.80px;width:12.08px;height:72.50px;background:#8ea6ea;color:#24336f"><span style="width:77.5px">Becoming</span></div>
<div class="bk" style="left:998.09px;top:721.80px;width:12.08px;height:60.50px;background:#8ed4cf;color:#1b4c4a"><span style="width:62.5px">Legendborn</span></div>
<div class="bk" style="left:1010.17px;top:709.80px;width:12.08px;height:72.50px;background:#e690c0;color:#6a1c46"><span style="width:77.5px">Heartstopper Vol 2</span></div>
<div class="bk" style="left:1022.25px;top:721.80px;width:12.08px;height:60.50px;background:#8c81cc;color:#f6f2ff"><span style="width:62.5px">Atomic Habits</span></div>
<div class="bk" style="left:1034.32px;top:709.80px;width:12.08px;height:72.50px;background:#efc45d;color:#573905"><span style="width:77.5px">Heartstopper Vol 3</span></div>
<div class="dc" style="left:949.78px;top:697.80px;width:36.23px;height:84.50px"><svg width="36.2" height="84.5" style="position:absolute;left:0;top:0">
<g transform="translate(18.12,84.50)">
<g fill="#5f8f45">
<path d="M-4,-10 C-6,-18 -5,-24 -3,-28 C-1,-24 -1,-16 -1,-10 Z"/>
<path d="M3,-10 C4,-18 7,-24 11,-27 C10,-20 8,-14 6,-10 Z"/>
</g>
<g fill="#86c05a">
<path d="M-9,-10 C-12,-14 -13,-18 -12,-20 C-9,-18 -6,-14 -4,-10 Z"/>
<path d="M-5,-10 C-7,-16 -6,-22 -4,-25 C-2,-21 -1,-15 -1,-10 Z" fill="#7bb752"/>
<path d="M-1,-10 C-1,-17 1,-23 3,-26 C5,-21 4,-15 3,-10 Z" fill="#95cc62"/>
<path d="M2,-10 C4,-15 7,-19 10,-21 C9,-16 7,-13 6,-10 Z"/>
<path d="M5,-10 C8,-13 11,-15 13,-16 C12,-13 10,-11 8,-10 Z" fill="#7bb752"/>
</g>
<path d="M-10,-10.5 L10,-10.5 L8,0 L-8,0 Z" fill="#a5bfe3"/>
<path d="M-10,-10.5 L10,-10.5 L9.6,-8.5 L-9.6,-8.5 Z" fill="#b8cdea"/>
</g></svg></div>
<div id="wm">DAILY MORNING STUDIO</div>

<svg id="lines" width="1320" height="1000">
  <g stroke="#8c9ce8" stroke-width="1.8" fill="none">
    <polyline points="986.5,240.4 1225.5,240.4 1225.5,886 1190.3,886"/>
    <line x1="986.5" y1="303.8" x2="1225.5" y2="303.8"/>
    <polyline points="506.7,436 106.8,436 106.8,887 148.2,887"/>
  </g>
  <g fill="#8c9ce8">
    <circle cx="986.5" cy="240.4" r="3.8"/><circle cx="986.5" cy="303.8" r="3.8"/>
    <circle cx="1190.3" cy="886" r="3.7"/><circle cx="506.7" cy="436" r="3.8"/><circle cx="148.2" cy="887" r="3.7"/>
  </g>
</svg>

<div class="badge" style="left:202px;top:511.3px">
  <svg width="124.5" height="124.5" viewBox="0 0 124.5 124.5">
    <defs>
      <path id="arcT1" d="M20.75,62.25 A41.5,41.5 0 0 1 103.75,62.25"/>
      <path id="arcB1" d="M7.25,62.25 A55,55 0 0 0 117.25,62.25"/>
    </defs>
    <text font-family="'Liberation Sans',sans-serif" font-size="15" font-weight="700" letter-spacing="0.5" fill="#17161a"><textPath href="#arcT1" startOffset="66.8" text-anchor="middle">DIGITAL</textPath></text>
    <text font-family="'Liberation Sans',sans-serif" font-size="16" font-weight="700" letter-spacing="0.6" fill="#17161a"><textPath href="#arcB1" startOffset="50%" text-anchor="middle">BOOKSHELVES</textPath></text>
    <g fill="#111">
      <rect x="37" y="36" width="12" height="39" rx="2.5"/>
      <rect x="51.8" y="36" width="12" height="39" rx="2.5"/>
      <rect x="70" y="37" width="11" height="39" rx="2.5" transform="rotate(-14 75 56)"/>
      <rect x="33.6" y="78" width="57.5" height="5" rx="1"/>
      <rect x="45.5" y="82" width="3.5" height="8"/>
      <rect x="76" y="82" width="3.5" height="8"/>
    </g>
    <g fill="#fff">
      <rect x="39.5" y="42" width="7" height="1.3"/><rect x="39.5" y="45" width="7" height="1.3"/>
      <rect x="39.5" y="66" width="7" height="1.3"/><rect x="39.5" y="69" width="7" height="1.3"/>
      <rect x="54.3" y="42" width="7" height="1.3"/><rect x="54.3" y="45" width="7" height="1.3"/>
      <rect x="54.3" y="66" width="7" height="1.3"/><rect x="54.3" y="69" width="7" height="1.3"/>
      <rect x="56" y="50" width="3.6" height="11" rx="1.8"/>
      <g transform="rotate(-14 75 56)"><circle cx="75.5" cy="43" r="1.6"/><rect x="74.5" y="47" width="2" height="20" rx="1"/><circle cx="75.5" cy="70" r="1.6"/></g>
    </g>
  </svg>
</div>
<div class="badge" style="left:202px;top:657px">
  <svg width="124.5" height="124.5" viewBox="0 0 124.5 124.5">
    <defs>
      <path id="arcT2" d="M16.75,62.25 A45.5,45.5 0 0 1 107.75,62.25"/>
      <path id="arcB2" d="M7.25,62.25 A55,55 0 0 0 117.25,62.25"/>
    </defs>
    <text font-family="'Liberation Sans',sans-serif" font-size="14.3" font-weight="700" letter-spacing="2.1" fill="#17161a"><textPath href="#arcT2" startOffset="74" text-anchor="middle">FILTER</textPath></text>
    <text font-family="'Liberation Sans',sans-serif" font-size="15.4" font-weight="700" letter-spacing="2.2" fill="#17161a"><textPath href="#arcB2" startOffset="88.5" text-anchor="middle">FEATURE</textPath></text>
    <g stroke="#111" stroke-width="4.2" stroke-linecap="round">
      <line x1="36" y1="42" x2="88" y2="42"/><line x1="36" y1="62" x2="88" y2="62"/><line x1="36" y1="82.4" x2="88" y2="82.4"/>
    </g>
    <g fill="#111"><circle cx="75.4" cy="42" r="7.7"/><circle cx="49.4" cy="62" r="7.7"/><circle cx="75.6" cy="82.4" r="7.7"/></g>
    <g fill="#fff"><circle cx="75.4" cy="42" r="3.5"/><circle cx="49.4" cy="62" r="3.5"/><circle cx="75.6" cy="82.4" r="3.5"/></g>
  </svg>
</div>

<svg class="abs" style="left:124px;top:839px" width="26" height="26" viewBox="0 0 26 26">
  <path d="M23.20,13.00 L25.20,13.00 M22.79,15.87 L24.71,16.44 M21.58,18.51 L23.26,19.60 M19.68,20.71 L20.99,22.22 M17.24,22.28 L18.07,24.10 M14.45,23.10 L14.74,25.08 M11.55,23.10 L11.26,25.08 M8.76,22.28 L7.93,24.10 M6.32,20.71 L5.01,22.22 M4.42,18.51 L2.74,19.60 M3.21,15.87 L1.29,16.44 M2.80,13.00 L0.80,13.00 M3.21,10.13 L1.29,9.56 M4.42,7.49 L2.74,6.40 M6.32,5.29 L5.01,3.78 M8.76,3.72 L7.93,1.90 M11.55,2.90 L11.26,0.92 M14.45,2.90 L14.74,0.92 M17.24,3.72 L18.07,1.90 M19.68,5.29 L20.99,3.78 M21.58,7.49 L23.26,6.40 M22.79,10.13 L24.71,9.56" stroke="#3a3a40" stroke-width="0.75" stroke-linecap="round"/>
  <path d="M13,5.8 L15.3,10.6 L20.4,11 L16.5,14.4 L17.7,19.4 L13,16.8 L8.3,19.4 L9.5,14.4 L5.6,11 L10.7,10.6 Z" fill="#111" stroke="#111" stroke-width="1" stroke-linejoin="round"/>
</svg>
<div class="feat" style="left:157px;top:839.6px"><div class="ft">Celebrate Your Finished Reads</div></div>
<div class="feat" style="left:100.9px;width:400px;top:863.6px"><div class="fb">See all your completed books<br>beautifully displayed on your<br>personal digital shelf.</div></div>

<svg class="abs" style="left:500px;top:839px" width="28" height="28" viewBox="0 0 28 28">
  <g stroke="#222" stroke-width="1.1"><line x1="14" y1="1" x2="14" y2="4"/><line x1="5" y1="5" x2="7" y2="7"/><line x1="23" y1="5" x2="21" y2="7"/><line x1="1.5" y1="13" x2="4.5" y2="13"/><line x1="26.5" y1="13" x2="23.5" y2="13"/><line x1="4" y1="20" x2="6" y2="19"/><line x1="24" y1="20" x2="22" y2="19"/></g>
  <path d="M14,6.5 C9.5,6.5 7.5,10 7.8,13 C8.1,16 10.5,17.5 10.6,20 L17.4,20 C17.5,17.5 19.9,16 20.2,13 C20.5,10 18.5,6.5 14,6.5 Z" fill="#111"/>
  <rect x="10.6" y="21" width="6.8" height="1.6" fill="#111"/><rect x="11" y="23.3" width="6" height="1.6" fill="#111"/>
  <path d="M12,19 L12,14 L16,14 L16,19" stroke="#fff" stroke-width="0.9" fill="none"/>
</svg>
<div class="feat" style="left:532px;top:842px"><div class="ft">Stay Inspired to Read More</div></div>
<div class="feat" style="left:459.8px;width:400px;top:866px"><div class="fb">A motivational visual shelf that<br>grows as your reading journey<br>continues.</div></div>

<svg class="abs" style="left:847px;top:839px" width="26" height="24" viewBox="0 0 26 24">
  <g stroke="#1a1a1a" stroke-width="1.6" fill="none">
    <line x1="1" y1="4" x2="22" y2="4"/><line x1="1" y1="11.5" x2="22" y2="11.5"/><line x1="1" y1="19" x2="22" y2="19"/>
  </g>
  <g stroke="#1a1a1a" stroke-width="1.5" fill="#dcdcee"><circle cx="16.5" cy="4" r="2.8"/><circle cx="7" cy="11.5" r="2.8"/><circle cx="16.5" cy="19" r="2.8"/></g>
</svg>
<div class="feat" style="left:880px;top:839.6px"><div class="ft">Filter &amp; Organize Your Shelves</div></div>
<div class="feat" style="left:824.1px;width:400px;top:863.6px"><div class="fb">Filter your shelf by genre, rating,<br>source, or format to review your<br>reading milestones.</div></div>
</body>

</html>
